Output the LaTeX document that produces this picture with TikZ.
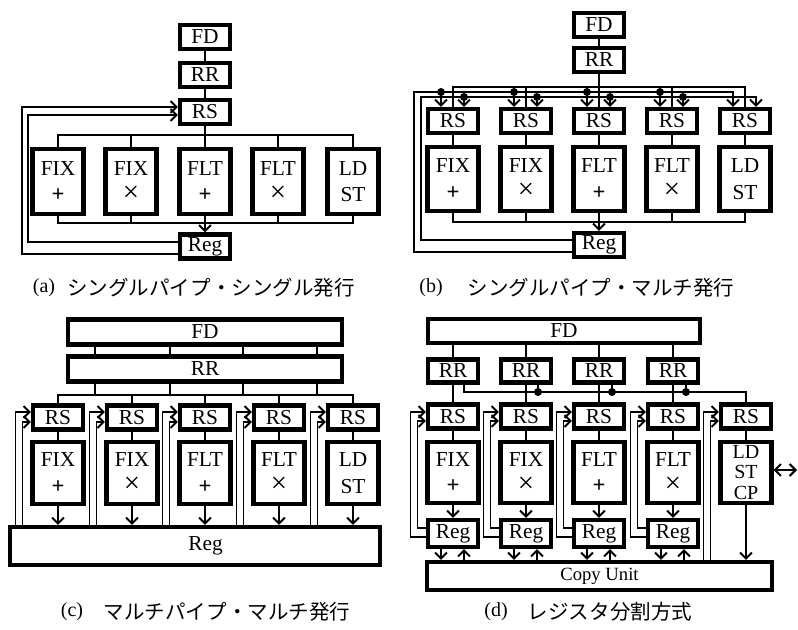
\documentclass[tikz,border=0pt]{standalone}
\usepackage{fontspec}
\usepackage{graphicx}
\setmainfont{Liberation Serif}
\newfontfamily\jfont{Noto Sans CJK JP}
\usetikzlibrary{arrows.meta}
\newcommand\px[1]{#1*0.75pt}
\newcommand\opp{{\fontsize{17}{20}\selectfont\bfseries +}}
\newcommand\opt{\raisebox{0.5pt}{\scalebox{1.35}{×}}}
\begin{document}
\begin{tikzpicture}[x=0.75pt,y=-0.75pt,
  box/.style={draw,line width=3.1pt,fill=white,inner sep=0pt,align=center,
    font=\fontsize{16}{20}\selectfont},
  sbox/.style={box,minimum width=\px{50},minimum height=\px{24}},
  ubox/.style={box,minimum width=\px{51},minimum height=\px{65}},
  wire/.style={line width=1.1pt},
  barb/.tip={Straight Barb[length=4.5pt,width=9pt,line width=1.5pt]},
  arr/.style={wire,-barb},
  dot/.style={circle,fill,inner sep=0pt,minimum size=6pt},
  captxt/.style={font=\fontsize{15}{18}\selectfont},
  jcap/.style={font=\jfont\fontsize{15.4}{18}\selectfont}
]
\useasboundingbox (0,0) rectangle (798,630);

%% ---------------- (a)
\node[sbox] (aFD) at (205,37) {FD};
\node[sbox] (aRR) at (205,75) {RR};
\node[sbox] (aRS) at (205,112) {RS};
\node[ubox] (aU1) at (58,181.5) {FIX\\\opp};
\node[ubox] (aU2) at (131,181.5) {FIX\\\opt};
\node[ubox] (aU3) at (205,181.5) {FLT\\\opp};
\node[ubox] (aU4) at (278,181.5) {FLT\\\opt};
\node[ubox] (aU5) at (353,181.5) {LD\\ST};
\node[sbox] (aReg) at (205,246.5) {Reg};
\coordinate (aBt) at (205,135);
\coordinate (aBb) at (205,223);
\coordinate (aLo) at (22,107);
\coordinate (aLi) at (28,115);
\draw[wire] (aFD) -- (aRR);
\draw[wire] (aRR) -- (aRS);
\draw[wire] (aRS) -- (aU3);
\draw[wire] (aU1.north) |- (aBt) -| (aU5.north);
\draw[wire] (aU2.north) -- (aU2.north |- aBt);
\draw[wire] (aU4.north) -- (aU4.north |- aBt);
\draw[wire] (aU1.south) |- (aBb) -| (aU5.south);
\draw[wire] (aU2.south) -- (aU2.south |- aBb);
\draw[wire] (aU4.south) -- (aU4.south |- aBb);
\draw[arr] (aU3) -- (aReg);
\draw[arr] (aReg.west |- 0,254) -| (aLo) -- (aRS.west |- aLo);
\draw[arr] (aReg.west |- 0,242) -| (aLi) -- (aRS.west |- aLi);
\node[captxt] (acap) at (44,288) {(a)};
\node[jcap] (ajp) at (211,288) {シングルパイプ・シングル発行};

%% ---------------- (b)
\node[sbox] (bFD) at (599,25) {FD};
\node[sbox] (bRR) at (599,60) {RR};
\node[sbox] (bRS1) at (453,121) {RS};
\node[sbox] (bRS2) at (526,121) {RS};
\node[sbox] (bRS3) at (599,121) {RS};
\node[sbox] (bRS4) at (672,121) {RS};
\node[sbox] (bRS5) at (745,121) {RS};
\node[ubox,minimum height=\px{64}] (bU1) at (453,179) {FIX\\\opp};
\node[ubox,minimum height=\px{64}] (bU2) at (526,179) {FIX\\\opt};
\node[ubox,minimum height=\px{64}] (bU3) at (599,179) {FLT\\\opp};
\node[ubox,minimum height=\px{64}] (bU4) at (672,179) {FLT\\\opt};
\node[ubox,minimum height=\px{64}] (bU5) at (745,179) {LD\\ST};
\node[sbox] (bReg) at (599,245) {Reg};
\coordinate (bI) at (599,87);
\coordinate (bBb) at (599,222);
\coordinate (bLo) at (414,92);
\coordinate (bLi) at (421,97);
\draw[wire] (bFD) -- (bRR);
\draw[wire] (bRR) -- (bRS3);
\draw[wire] (bRS1.north) |- (bI) -| (bRS5.north);
\draw[wire] (bRS2.north) -- (bRS2.north |- bI);
\draw[wire] (bRS4.north) -- (bRS4.north |- bI);
\draw[arr] (bReg.west |- 0,252) -| (bLo) -| (bRS5.north -| 733,0);
\draw[arr] (bReg.west |- 0,240) -| (bLi) -| (bRS5.north -| 756,0);
\foreach \i/\x in {1/453,2/526,3/599,4/672}{
  \draw[arr] (\x-12,92) node[dot] (bdl\i) {} -- (bRS\i.north -| \x-12,0);
  \draw[arr] (\x+11,97) node[dot] (bdr\i) {} -- (bRS\i.north -| \x+11,0);
}
\foreach \i in {1,...,5}{\draw[wire] (bRS\i) -- (bU\i);}
\draw[wire] (bU1.south) |- (bBb) -| (bU5.south);
\draw[wire] (bU2.south) -- (bU2.south |- bBb);
\draw[wire] (bU4.south) -- (bU4.south |- bBb);
\draw[arr] (bU3) -- (bReg);
\node[captxt] (bcap) at (431,288) {(b)};
\node[jcap] (bjp) at (601,288) {シングルパイプ・マルチ発行};

%% ---------------- (c)
\node[box,minimum width=\px{274},minimum height=\px{25}] (cFD) at (205,332) {FD};
\node[box,minimum width=\px{274},minimum height=\px{25}] (cRR) at (205,369) {RR};
\node[sbox] (cRS1) at (58,417.5) {RS};
\node[sbox] (cRS2) at (132,417.5) {RS};
\node[sbox] (cRS3) at (205,417.5) {RS};
\node[sbox] (cRS4) at (279,417.5) {RS};
\node[sbox] (cRS5) at (353,417.5) {RS};
\node[ubox,minimum height=\px{62}] (cU1) at (58,473) {FIX\\\opp};
\node[ubox,minimum height=\px{62}] (cU2) at (132,473) {FIX\\\opt};
\node[ubox,minimum height=\px{62}] (cU3) at (205,473) {FLT\\\opp};
\node[ubox,minimum height=\px{62}] (cU4) at (279,473) {FLT\\\opt};
\node[ubox,minimum height=\px{62}] (cU5) at (353,473) {LD\\ST};
\node[box,minimum width=\px{370},minimum height=\px{38}] (cReg) at (195,546) {\hspace*{16pt}Reg};
\coordinate (cB) at (205,395);
\foreach \x in {95,170,243,317}{
  \draw[wire] (cFD.south -| \x,0) -- (cRR.north -| \x,0);
  \draw[wire] (cRR.south -| \x,0) -- (cB -| \x,0);
}
\draw[wire] (cRS1.north) |- (cB) -| (cRS5.north);
\foreach \i in {2,3,4}{\draw[wire] (cRS\i.north) -- (cRS\i.north |- cB);}
\foreach \i/\x in {1/58,2/132,3/205,4/279,5/353}{
  \draw[wire] (cRS\i) -- (cU\i);
  \draw[arr] (cU\i) -- (cU\i |- cReg.north);
  \draw[arr] (cReg.north -| \x-42.5,0) |- (cRS\i.west |- 0,412);
  \draw[arr] (cReg.north -| \x-35.5,0) |- (cRS\i.west |- 0,422);
}
\node[captxt] (ccap) at (72,612) {(c)};
\node[jcap] (cjp) at (227,612) {マルチパイプ・マルチ発行};

%% ---------------- (d)
\node[box,minimum width=\px{272},minimum height=\px{24}] (dFD) at (564,331) {FD};
\node[sbox,minimum height=\px{23}] (dRR1) at (453,371) {RR};
\node[sbox,minimum height=\px{23}] (dRR2) at (526,371) {RR};
\node[sbox,minimum height=\px{23}] (dRR3) at (599,371) {RR};
\node[sbox,minimum height=\px{23}] (dRR4) at (673,371) {RR};
\node[sbox] (dRS1) at (453,416.5) {RS};
\node[sbox] (dRS2) at (526,416.5) {RS};
\node[sbox] (dRS3) at (599,416.5) {RS};
\node[sbox] (dRS4) at (673,416.5) {RS};
\node[sbox] (dRS5) at (746,416.5) {RS};
\node[ubox,minimum height=\px{61}] (dU1) at (453,472.5) {FIX\\\opp};
\node[ubox,minimum height=\px{61}] (dU2) at (526,472.5) {FIX\\\opt};
\node[ubox,minimum height=\px{61}] (dU3) at (599,472.5) {FLT\\\opp};
\node[ubox,minimum height=\px{61}] (dU4) at (673,472.5) {FLT\\\opt};
\node[ubox,minimum height=\px{61},font=\fontsize{15}{15.5}\selectfont] (dU5) at (746,472.5) {LD\\ST\\CP};
\node[sbox,minimum height=\px{27}] (dReg1) at (453,533.5) {Reg};
\node[sbox,minimum height=\px{27}] (dReg2) at (526,533.5) {Reg};
\node[sbox,minimum height=\px{27}] (dReg3) at (599,533.5) {Reg};
\node[sbox,minimum height=\px{27}] (dReg4) at (673,533.5) {Reg};
\node[box,minimum width=\px{345},minimum height=\px{28},font=\fontsize{14}{15}\selectfont] (dCU) at (599.5,576) {Copy Unit};
\coordinate (dB) at (746,392);
\coordinate (dX) at (797,470);
\foreach \i in {1,...,4}{
  \draw[wire] (dFD.south -| dRR\i) -- (dRR\i);
  \draw[wire] (dRR\i) -- (dRS\i);
}
\draw[wire] (dRR1.south -| 464,0) |- (dB) -- (dRS5.north);
\foreach \x [count=\i from 2] in {538,612,686}{
  \draw[wire] (dRR\i.south -| \x,0) -- (\x,392) node[dot] (dd\i) {};
}
\foreach \i in {1,...,5}{\draw[wire] (dRS\i) -- (dU\i);}
\foreach \i/\x in {1/453,2/526,3/599,4/673}{
  \draw[arr] (dU\i) -- (dReg\i);
  \draw[arr] (dReg\i.south -| \x-12,0) -- (dCU.north -| \x-12,0);
  \draw[arr] (dCU.north -| \x+11,0) -- (dReg\i.south -| \x+11,0);
  \draw[arr] (dReg\i.west |- 0,537) -| (\x-42.5,412) -- (dRS\i.west |- 0,412);
  \draw[arr] (dReg\i.west |- 0,528) -| (\x-35.5,421) -- (dRS\i.west |- 0,421);
}
\draw[arr] (dU5) -- (dU5 |- dCU.north);
\draw[arr] (dCU.north -| 703.5,0) |- (dRS5.west |- 0,412);
\draw[arr] (dCU.north -| 710.5,0) |- (dRS5.west |- 0,421);
\draw[wire,barb-barb] (dU5.east |- dX) -- (dX);
\node[captxt] (dcap) at (496,612) {(d)};
\node[jcap] (djp) at (610,612) {レジスタ分割方式};
\end{tikzpicture}
\end{document}
